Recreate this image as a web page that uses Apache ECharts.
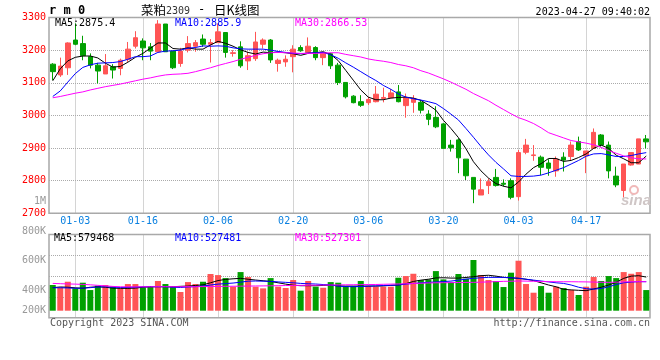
<!DOCTYPE html>
<html><head><meta charset="utf-8">
<script src="https://cdn.jsdelivr.net/npm/echarts@6/dist/echarts.min.js"></script>
<style>html,body{margin:0;padding:0;background:#fff;}#c{width:660px;height:360px;}</style>
</head><body><div id="c"></div>
<script>
// ---- data ----
const dates = ['12-28','12-29','12-30',
 '01-03','01-04','01-05','01-06','01-09','01-10','01-11','01-12','01-13','01-16','01-17','01-18','01-19','01-20','01-30','01-31',
 '02-01','02-02','02-03','02-06','02-07','02-08','02-09','02-10','02-13','02-14','02-15','02-16','02-17','02-20','02-21','02-22','02-23','02-24','02-27','02-28',
 '03-01','03-02','03-03','03-06','03-07','03-08','03-09','03-10','03-13','03-14','03-15','03-16','03-17','03-20','03-21','03-22','03-23','03-24','03-27','03-28','03-29','03-30','03-31',
 '04-03','04-04','04-06','04-07','04-10','04-11','04-12','04-13','04-14','04-17','04-18','04-19','04-20','04-21','04-24','04-25','04-26','04-27'];
const tickLabels = ['01-03','01-16','02-06','02-20','03-06','03-20','04-03','04-17'];

const opens = [3157,3124,3146,3231,3220,3180,3154,3127,3149,3144,
 3172,3212,3228,3210,3195,3280,3197,3159,3200,3212,
 3234,3218,3223,3254,3190,3210,3167,3174,3218,3231,
 3159,3164,3180,3208,3193,3208,3177,3189,3154,3101,
 3059,3042,3039,3042,3052,3054,3072,3030,3040,3040,
 3004,2994,2974,2909,2925,2866,2810,2756,2785,2810,
 2792,2800,2751,2887,2877,2872,2854,2830,2872,2874,
 2920,2876,2899,2940,2909,2814,2770,2848,2851,2928];
const closes = [3134,3151,3222,3218,3183,3154,3136,3152,3139,3169,
 3203,3238,3207,3197,3280,3195,3146,3197,3220,3223,
 3218,3223,3256,3193,3192,3152,3183,3225,3231,3170,
 3169,3172,3203,3198,3212,3177,3193,3152,3101,3057,
 3039,3031,3049,3065,3055,3069,3042,3054,3052,3016,
 2988,2965,2899,2901,2870,2815,2774,2772,2797,2785,
 2789,2749,2886,2909,2879,2841,2838,2866,2863,2909,
 2894,2891,2948,2909,2830,2787,2851,2886,2928,2919];
const lows = [3108,3118,3124,3215,3169,3144,3098,3127,3113,3123,
 3164,3205,3169,3169,3195,3195,3142,3149,3193,3195,
 3210,3162,3223,3177,3180,3146,3139,3167,3205,3161,
 3134,3149,3132,3195,3190,3169,3154,3142,3093,3052,
 3037,3026,3032,3040,3040,3052,3040,2993,3008,3006,
 2970,2961,2899,2889,2823,2802,2731,2756,2759,2782,
 2782,2743,2739,2881,2861,2817,2815,2812,2828,2861,
 2891,2823,2897,2904,2807,2780,2749,2846,2851,2899];
const highs = [3160,3177,3224,3282,3244,3190,3161,3188,3157,3174,
 3225,3258,3236,3222,3292,3280,3197,3207,3243,3231,
 3248,3234,3282,3254,3200,3227,3195,3256,3236,3234,
 3174,3184,3215,3215,3239,3212,3193,3192,3161,3101,
 3062,3062,3057,3090,3085,3081,3093,3067,3062,3047,
 3016,3028,2976,2925,2930,2866,2810,2807,2807,2836,
 2804,2807,2894,2928,2909,2877,2866,2874,2887,2920,
 2935,2891,2960,2943,2920,2843,2851,2886,2928,2940];

const ma5 = [3106,3143,3167,3178,3182,3182,3176,3160,3148,3150,
 3163,3178,3190,3206,3222,3222,3205,3203,3207,3203,
 3203,3216,3227,3221,3212,3201,3193,3188,3194,3192,
 3194,3192,3189,3184,3190,3192,3195,3187,3168,3138,
 3108,3078,3056,3048,3048,3053,3055,3056,3053,3046,
 3032,3016,2985,2960,2932,2898,2858,2830,2808,2791,
 2783,2778,2796,2820,2840,2852,2868,2868,2859,2862,
 2871,2882,2899,2909,2899,2878,2867,2855,2855,2875.4];
const ma10 = [3058,3075,3102,3128,3147,3155,3160,3161,3162,3165,
 3172,3180,3180,3182,3193,3197,3198,3200,3206,3208,
 3213,3212,3213,3212,3207,3204,3203,3203,3203,3200,
 3196,3193,3190,3189,3191,3192,3193,3186,3175,3161,
 3148,3134,3120,3107,3092,3080,3066,3056,3051,3047,
 3042,3036,3021,3004,2986,2960,2933,2905,2879,2856,
 2836,2815,2813,2813,2814,2817,2824,2832,2840,2851,
 2862,2875,2882,2883,2879,2874,2874,2877,2882,2885.9];
const ma30 = [3054,3058,3063,3068,3072,3078,3083,3088,3092,3096,
 3101,3106,3111,3115,3120,3124,3126,3127,3129,3134,
 3140,3146,3153,3159,3165,3172,3178,3184,3189,3192,
 3193,3192,3191,3190,3190,3190,3191,3192,3192,3187,
 3183,3179,3173,3169,3166,3162,3156,3152,3146,3137,
 3130,3121,3112,3102,3091,3080,3067,3056,3045,3031,
 3018,3005,2993,2985,2975,2962,2947,2939,2931,2923,
 2919,2915,2910,2902,2892,2884,2876,2870,2867,2866.53];

// volumes in thousands
const volumes = [490,463,527,452,516,433,482,490,471,452,
 501,501,463,478,535,501,471,411,523,501,
 527,614,602,568,471,636,580,471,452,568,
 471,456,546,426,535,471,459,523,516,478,
 478,535,478,471,471,471,572,591,617,546,
 553,647,553,523,614,561,772,602,546,535,
 467,629,764,501,403,478,403,471,456,433,
 377,471,580,535,591,568,636,617,636,433];
const volMa5 = [460,468,465,458,453,465,470,465,455,452,
 452,455,465,470,471,471,471,475,478,485,
 492,515,540,553,560,565,555,546,538,530,
 515,500,488,482,482,482,485,490,480,478,
 478,478,478,478,480,486,490,505,530,545,
 555,570,572,568,568,575,584,595,600,590,
 576,570,565,555,540,515,490,470,441,435,
 430,426,445,465,490,520,565,590,595,579.468];
const volMa10 = [459,459,457,453,455,460,468,470,466,462,
 463,466,469,471,471,471,465,462,468,472,
 478,490,500,506,512,522,533,535,533,531,
 525,520,515,508,504,501,495,490,478,472,
 471,473,477,480,484,487,490,500,508,514,
 520,524,529,534,545,556,565,572,576,576,
 576,572,566,555,545,535,525,515,508,490,
 465,448,444,450,470,495,515,523,528,527.481];
const volMa30 = [508,505,502,500,497,492,486,480,474,470,
 469,469,470,470,471,471,471,471,471,471,
 472,473,474,475,476,477,478,479,480,481,
 482,484,485,486,487,488,489,490,491,492,
 493,494,495,496,498,500,502,504,507,510,
 513,515,516,517,518,519,520,522,525,528,
 531,533,535,534,532,530,528,527,527,527,
 526,525,523,521,520,522,525,527,528,527.301];

// ---- chart ----
const chart = echarts.init(document.getElementById('c'), null, {renderer: 'canvas'});
const MONO = '"DejaVu Sans Mono", monospace';
const RED = '#ff5555', GREEN = '#00a000', GRID = '#aaaaaa', FRAME = '#a8a8a8';
const L = 49, W = 601;
const candleData = dates.map((d, i) => [opens[i], closes[i], lows[i], highs[i]]);
const volData = volumes.map((v, i) => ({value: v, itemStyle: {color: closes[i] >= opens[i] ? RED : GREEN}}));
const showDate = (i, v) => tickLabels.indexOf(v) >= 0;
const vSplit = {show: true, interval: showDate, alignWithLabel: true, lineStyle: {color: GRID, type: 'dotted', width: 1}};
const hSplit = {show: true, lineStyle: {color: GRID, type: 'dotted', width: 1}};
const line = (name, data, color, xi, yi) => ({name, type: 'line', data, xAxisIndex: xi, yAxisIndex: yi,
  symbol: 'none', smooth: false, lineStyle: {color, width: 1}, z: 3, silent: true});
const last = a => a[a.length - 1];
const txt = (x, y, text, fill, align) => ({type: 'text', x, y, z: 100,
  style: {text, fill, font: '10px ' + MONO, textAlign: align || 'left', textVerticalAlign: 'middle'}});

const option = {
  animation: false,
  backgroundColor: '#fff',
  grid: [
    {left: L, width: W, top: 17.5, height: 195.8, show: true, borderColor: FRAME, borderWidth: 1.5, backgroundColor: 'transparent'},
    {left: L, width: W, top: 234.5, height: 83.2, show: true, borderColor: FRAME, borderWidth: 1.5, backgroundColor: 'transparent'},
    {left: L, width: W, top: 234.5, height: 76.2, show: false},
    {left: L, width: W, top: 201.5, height: 118, show: false}
  ],
  xAxis: [
    {gridIndex: 0, type: 'category', data: dates, boundaryGap: true, axisLine: {show: false}, axisTick: {show: false},
     axisLabel: {interval: showDate, color: '#0a80e0', fontFamily: MONO, fontSize: 10, margin: 3}, splitLine: vSplit},
    {gridIndex: 1, type: 'category', data: dates, boundaryGap: true, axisLine: {show: false}, axisTick: {show: false},
     axisLabel: {show: false}, splitLine: vSplit},
    {gridIndex: 2, type: 'category', data: dates, boundaryGap: true, show: false},
    {gridIndex: 3, type: 'category', data: dates, boundaryGap: true, show: false}
  ],
  yAxis: [
    {gridIndex: 0, type: 'value', min: 2700, max: 3300, interval: 100, axisLine: {show: false}, axisTick: {show: false},
     axisLabel: {color: '#ff0000', fontFamily: MONO, fontSize: 10, margin: 3, formatter: v => String(v)}, splitLine: hSplit},
    {gridIndex: 1, type: 'value', min: 0, max: 4, interval: 1, axisLine: {show: false}, axisTick: {show: false},
     axisLabel: {show: false}, splitLine: hSplit},
    {gridIndex: 2, type: 'value', min: 200, max: 1060, show: false, splitLine: {show: false}},
    {gridIndex: 3, type: 'value', min: 200, max: 1000, interval: 200, axisLine: {show: false}, axisTick: {show: false},
     splitLine: {show: false},
     axisLabel: {color: '#999', fontFamily: MONO, fontSize: 10, margin: 3,
       formatter: v => v === 200 ? '{lo|200K}' : (v >= 1000 ? '1M' : v + 'K'),
       rich: {lo: {color: '#999', fontFamily: MONO, fontSize: 10, padding: [0, 0, 19, 0]}}}}
  ],
  series: [
    {name: 'K', type: 'candlestick', data: candleData, xAxisIndex: 0, yAxisIndex: 0, barWidth: 5, z: 2,
     itemStyle: {color: RED, color0: GREEN, borderColor: RED, borderColor0: GREEN, borderWidth: 1}},
    line('MA5', ma5, '#000000', 0, 0),
    line('MA10', ma10, '#0000ff', 0, 0),
    line('MA30', ma30, '#ff00ff', 0, 0),
    {name: 'VOL', type: 'bar', data: volData, xAxisIndex: 2, yAxisIndex: 2, barWidth: 6, clip: true, z: 2},
    line('VMA5', volMa5, '#000000', 2, 2),
    line('VMA10', volMa10, '#0000ff', 2, 2),
    line('VMA30', volMa30, '#ff00ff', 2, 2)
  ],
  graphic: [
    {type: 'text', x: 49, y: 11, z: 100, style: {text: 'r m 0', fill: '#000', font: 'bold 12px ' + MONO, textAlign: 'left', textVerticalAlign: 'middle'}},
    {type: 'text', x: 141, y: 10, z: 100, style: {text: '菜粕', fill: '#000', font: '12.5px "Noto Sans CJK SC"', textAlign: 'left', textVerticalAlign: 'middle'}},
    {type: 'text', x: 166, y: 11, z: 100, style: {text: '2309', fill: '#333', font: '10px ' + MONO, textAlign: 'left', textVerticalAlign: 'middle'}},
    {type: 'text', x: 198, y: 10, z: 100, style: {text: '-', fill: '#000', font: '12px ' + MONO, textAlign: 'left', textVerticalAlign: 'middle'}},
    {type: 'text', x: 214, y: 10, z: 100, style: {text: '日K线图', fill: '#000', font: '12.5px "Noto Sans CJK SC"', textAlign: 'left', textVerticalAlign: 'middle'}},
    txt(650, 12, '2023-04-27 09:40:02', '#000', 'right'),
    txt(55, 23, 'MA5:' + last(ma5), '#000'),
    txt(175, 23, 'MA10:' + last(ma10), '#0000ff'),
    txt(295, 23, 'MA30:' + last(ma30), '#ff00ff'),
    txt(54, 238.5, 'MA5:' + Math.round(last(volMa5) * 1000), '#000'),
    txt(175, 238.5, 'MA10:' + Math.round(last(volMa10) * 1000), '#0000ff'),
    txt(295, 238.5, 'MA30:' + Math.round(last(volMa30) * 1000), '#ff00ff'),
    txt(50, 323.5, 'Copyright 2023 SINA.COM', '#555'),
    txt(650, 323.5, 'http://finance.sina.com.cn', '#555', 'right'),
    {type: 'text', x: 636, y: 201, z: 1, style: {text: 'sina', fill: '#cfc6c6', font: 'italic bold 15px "Liberation Sans"', textAlign: 'center', textVerticalAlign: 'middle'}},
    {type: 'circle', z: 1, shape: {cx: 634, cy: 190, r: 4}, style: {fill: 'none', stroke: '#f0b8b8', lineWidth: 2}}
  ]
};
chart.setOption(option);
</script>
</body></html>
